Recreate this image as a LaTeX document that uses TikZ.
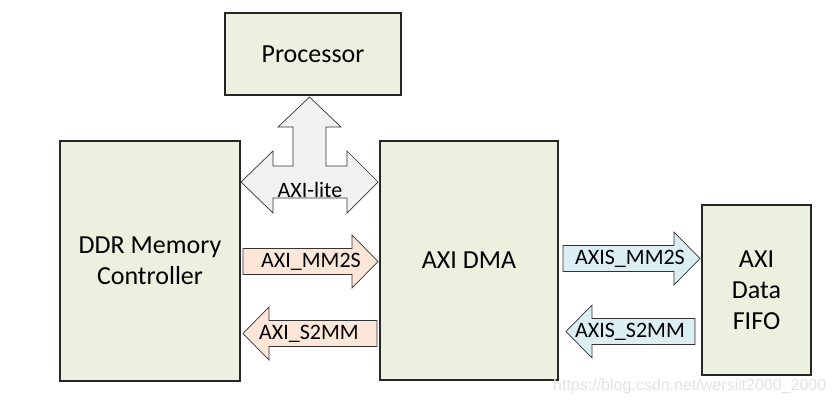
\documentclass[tikz,border=0pt]{standalone}
\usepackage{fontspec}
\setmainfont{Carlito}
\newfontfamily\wmfont{Liberation Sans}
\definecolor{boxfill}{HTML}{EBF1DE}
\definecolor{litefill}{HTML}{F2F2F2}
\definecolor{peach}{HTML}{FCE6D8}
\definecolor{paleblue}{HTML}{DBEEF4}
\tikzset{
  block/.style={draw=black!85, line width=1.2pt, fill=boxfill, align=center,
    font=\fontsize{26}{31}\selectfont, inner sep=0pt},
  barrow/.style={draw=black!80, line width=0.7pt, line join=miter},
  blabel/.style={font=\fontsize{22}{24}\selectfont, inner sep=0pt}
}
\begin{document}
\begin{tikzpicture}[x=1pt,y=-1pt]
\useasboundingbox (0,0) rectangle (833,405);
\fill[white] (0,0) rectangle (833,405);
% blocks
\node[block, minimum width=176pt, minimum height=82pt] (proc) at (313,54) {Processor};
\node[block, minimum width=180pt, minimum height=240pt] (ddr) at (150,261) {DDR Memory\\Controller};
\node[block, minimum width=178pt, minimum height=239pt] (dma) at (469,260.5) {AXI DMA};
\node[block, minimum width=109pt, minimum height=170pt] (fifo) at (756.5,290) {AXI\\Data\\FIFO};
% AXI-lite three-way arrow
\draw[barrow, fill=litefill]
  (309.5,97) -- (341,127) -- (326,127) -- (326,166) -- (347,166) -- (347,151)
  -- (378,182) -- (347,213) -- (347,198) -- (273,198) -- (273,213)
  -- (241,182) -- (273,151) -- (273,166) -- (293,166) -- (293,127)
  -- (278,127) -- cycle;
\node[blabel] (lite) at (310,190) {AXI-lite};
% AXI_MM2S (right)
\draw[barrow, fill=peach]
  (243,248.5) -- (352,248.5) -- (352,235) -- (378,261.5) -- (352,288) -- (352,274.5)
  -- (243,274.5) -- cycle;
\node[blabel] (mm2s) at (311,262) {AXI\_MM2S};
% AXI_S2MM (left)
\draw[barrow, fill=peach]
  (377,320.5) -- (269,320.5) -- (269,307) -- (243,333.5) -- (269,360) -- (269,346.5)
  -- (377,346.5) -- cycle;
\node[blabel] (s2mm) at (309,334) {AXI\_S2MM};
% AXIS_MM2S (right)
\draw[barrow, fill=paleblue]
  (563,245.5) -- (674,245.5) -- (674,232) -- (700,258.5) -- (674,285) -- (674,271.5)
  -- (563,271.5) -- cycle;
\node[blabel] (smm2s) at (630,259) {AXIS\_MM2S};
% AXIS_S2MM (left)
\draw[barrow, fill=paleblue]
  (695,318.5) -- (592,318.5) -- (592,305) -- (566,331.5) -- (592,358) -- (592,344.5)
  -- (695,344.5) -- cycle;
\node[blabel] (ss2mm) at (630,332) {AXIS\_S2MM};
% watermark
\node[font=\wmfont\fontsize{16}{18}\selectfont, text=black!11, anchor=west, inner sep=0pt] (wm) at (553,386) {https://blog.csdn.net/wersiit2000\_2000};
\end{tikzpicture}
\end{document}
